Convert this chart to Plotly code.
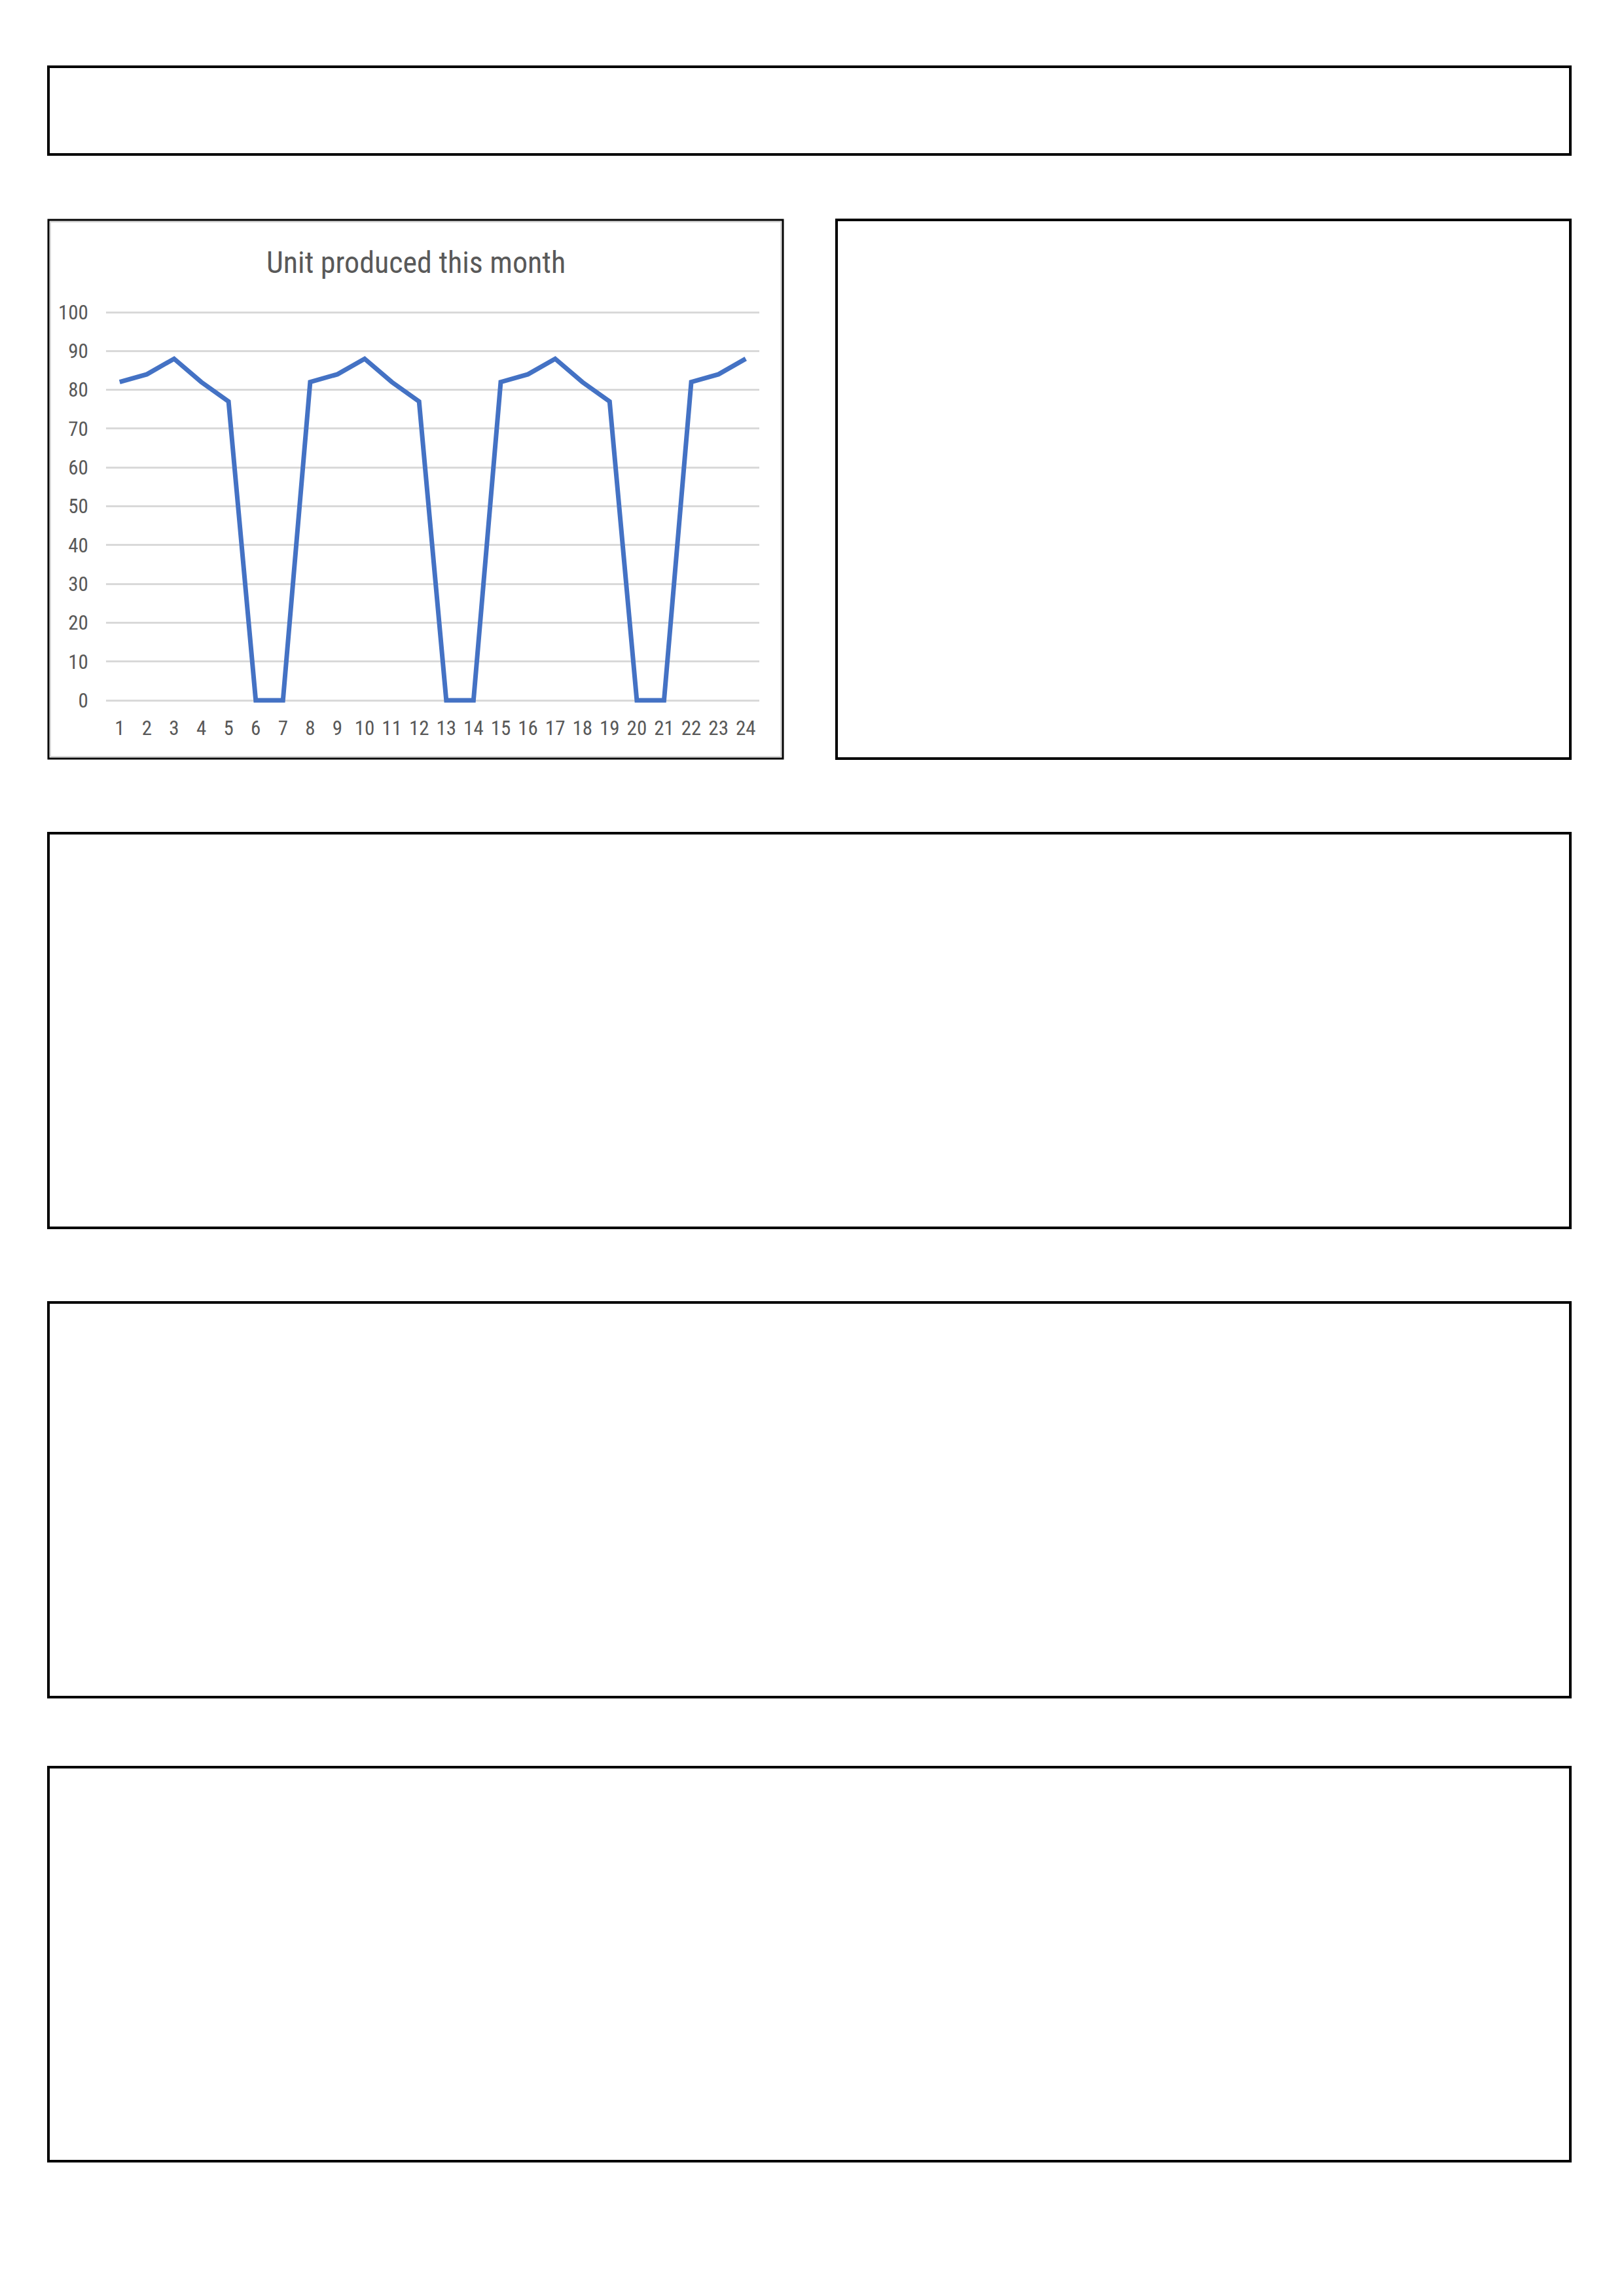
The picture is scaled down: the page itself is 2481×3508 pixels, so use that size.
import plotly.graph_objects as go

W, H = 2481, 3508

days = [str(i) for i in range(1, 25)]
units = [82, 84, 88, 82, 77, 0, 0, 82, 84, 88, 82, 77, 0, 0,
         82, 84, 88, 82, 77, 0, 0, 82, 84, 88]
y_ticks = [0, 10, 20, 30, 40, 50, 60, 70, 80, 90, 100]
title_text = "Unit produced this month"

FONT = "Liberation Sans Narrow, Roboto Condensed, Liberation Sans, sans-serif"
GRAY = "#595959"


def px(x):
    return x / W


def py(y):
    return 1 - y / H


fig = go.Figure()
fig.add_trace(go.Scatter(
    x=list(range(1, 25)), y=units, mode="lines",
    line=dict(color="#4472C4", width=7),
    cliponaxis=False, showlegend=False, hoverinfo="skip"))

# plot area: x 162..1160, y(0)=1070, y(100)=477
unit_px = (1070 - 477) / 100
fig.update_layout(
    template="none",
    width=W, height=H, autosize=False,
    margin=dict(l=0, r=0, t=0, b=0, pad=0, autoexpand=False),
    paper_bgcolor="white", plot_bgcolor="white",
    xaxis=dict(
        automargin=False,
        domain=[px(162), px(1160)], range=[0.5, 24.5],
        tickmode="array", tickvals=list(range(1, 25)), ticktext=days,
        showgrid=False, zeroline=False, showline=False,
        ticks="outside", ticklen=9, tickcolor="rgba(0,0,0,0)",
        tickfont=dict(family=FONT, size=31, color=GRAY),
    ),
    yaxis=dict(
        automargin=False,
        domain=[py(1070 + unit_px), py(477 - unit_px)], range=[-1, 101],
        tickmode="array", tickvals=y_ticks, ticktext=[str(v) for v in y_ticks],
        showgrid=True, gridcolor="#D9D9D9", gridwidth=3,
        zeroline=False, showline=False,
        ticks="outside", ticklen=20, tickcolor="rgba(0,0,0,0)",
        tickfont=dict(family=FONT, size=31, color=GRAY),
    ),
)

fig.add_annotation(
    text=title_text, x=px(635), y=py(401), xref="paper", yref="paper",
    xanchor="center", yanchor="middle", showarrow=False,
    font=dict(family=FONT, size=46, color=GRAY))

# chart frame (thin black with light gray inner edge)
shapes = [
    dict(type="rect", xref="paper", yref="paper",
         x0=px(77), x1=px(1193), y0=py(339), y1=py(1156),
         line=dict(color="#D9D9D9", width=2), layer="below"),
    dict(type="rect", xref="paper", yref="paper",
         x0=px(74), x1=px(1196), y0=py(336), y1=py(1159),
         line=dict(color="black", width=3), layer="below"),
]

# empty bordered boxes
boxes = [
    (74, 102, 2399, 236),
    (1278, 336, 2399, 1159),
    (74, 1273, 2399, 1876),
    (74, 1990, 2399, 2593),
    (74, 2700, 2399, 3302),
]
for x0, y0, x1, y1 in boxes:
    shapes.append(dict(type="rect", xref="paper", yref="paper",
                       x0=px(x0), x1=px(x1), y0=py(y0), y1=py(y1),
                       line=dict(color="black", width=4)))
fig.update_layout(shapes=shapes)

fig.write_html("out.html", config={"displayModeBar": False})

# remove default page margin so the figure sits at the page origin
with open("out.html", "r", encoding="utf-8") as f:
    html = f.read()
html = html.replace("<head>", "<head><style>html,body{margin:0;padding:0;overflow:hidden;}</style>", 1)
with open("out.html", "w", encoding="utf-8") as f:
    f.write(html)
